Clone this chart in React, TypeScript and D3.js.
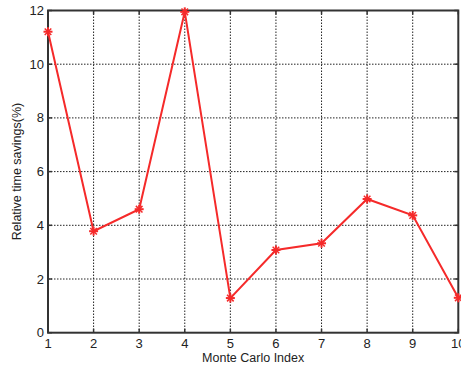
import React from "react";
import * as d3 from "d3";

const indices = [1, 2, 3, 4, 5, 6, 7, 8, 9, 10];
const savings = [11.21, 3.78, 4.6, 11.95, 1.29, 3.08, 3.33, 4.98, 4.37, 1.3];
const xTicks = [1, 2, 3, 4, 5, 6, 7, 8, 9, 10];
const yTicks = [0, 2, 4, 6, 8, 10, 12];

const W = 461;
const H = 370;
const left = 48;
const right = 458.3;
const top = 10.5;
const bottom = 332.7;
const font = "'Liberation Sans', Arial, sans-serif";

export default function App() {
  const x = d3.scaleLinear().domain([1, 10]).range([left, right]);
  const y = d3.scaleLinear().domain([0, 12]).range([bottom, top]);
  const line = d3
    .line<number>()
    .x((_, i) => x(indices[i]))
    .y((d) => y(d));

  const red = "#f52a2a";
  const m = 4.5;
  const md = 3.3;

  return (
    <svg
      width={W}
      height={H}
      style={{ position: "absolute", left: 0, top: 0, background: "#fff" }}
    >
      {/* grid */}
      {xTicks.slice(1, -1).map((t) => (
        <line
          key={"gx" + t}
          x1={x(t)}
          x2={x(t)}
          y1={top}
          y2={bottom}
          stroke="#222"
          strokeWidth={1}
          strokeDasharray="1.5,1.5"
        />
      ))}
      {yTicks.slice(1, -1).map((t) => (
        <line
          key={"gy" + t}
          x1={left}
          x2={right}
          y1={y(t)}
          y2={y(t)}
          stroke="#222"
          strokeWidth={1}
          strokeDasharray="1.5,1.5"
        />
      ))}
      {/* ticks (inward) */}
      {xTicks.map((t) => (
        <g key={"tx" + t}>
          <line x1={x(t)} x2={x(t)} y1={bottom} y2={bottom - 4} stroke="#333" strokeWidth={1.5} />
          <line x1={x(t)} x2={x(t)} y1={top} y2={top + 4} stroke="#333" strokeWidth={1.5} />
        </g>
      ))}
      {yTicks.map((t) => (
        <g key={"ty" + t}>
          <line x1={left} x2={left + 4} y1={y(t)} y2={y(t)} stroke="#333" strokeWidth={1.5} />
          <line x1={right} x2={right - 4} y1={y(t)} y2={y(t)} stroke="#333" strokeWidth={1.5} />
        </g>
      ))}
      {/* axes box */}
      <rect
        x={left}
        y={top}
        width={right - left}
        height={bottom - top}
        fill="none"
        stroke="#333"
        strokeWidth={2}
      />
      {/* series */}
      <path d={line(savings) || ""} fill="none" stroke={red} strokeWidth={2} />
      {savings.map((v, i) => {
        const cx = x(indices[i]);
        const cy = y(v);
        return (
          <g key={"m" + i} stroke={red} strokeWidth={2}>
            <line x1={cx - m} x2={cx + m} y1={cy} y2={cy} />
            <line x1={cx} x2={cx} y1={cy - m} y2={cy + m} />
            <line x1={cx - md} x2={cx + md} y1={cy - md} y2={cy + md} strokeWidth={1.5} />
            <line x1={cx - md} x2={cx + md} y1={cy + md} y2={cy - md} strokeWidth={1.5} />
          </g>
        );
      })}
      {/* tick labels */}
      {xTicks.map((t) => (
        <text
          key={"lx" + t}
          x={x(t)}
          y={348}
          textAnchor="middle"
          fontFamily={font}
          fontSize={13}
          fill="#222"
        >
          {t}
        </text>
      ))}
      {yTicks.map((t) => (
        <text
          key={"ly" + t}
          x={44}
          y={y(t) + 4.5}
          textAnchor="end"
          fontFamily={font}
          fontSize={13}
          fill="#222"
        >
          {t}
        </text>
      ))}
      <text
        x={(left + right) / 2}
        y={362}
        textAnchor="middle"
        fontFamily={font}
        fontSize={12.5}
        fill="#222"
      >
        Monte Carlo Index
      </text>
      <text
        transform={`translate(21,${(top + bottom) / 2}) rotate(-90)`}
        textAnchor="middle"
        fontFamily={font}
        fontSize={12.5}
        fill="#222"
      >
        Relative time savings(%)
      </text>
    </svg>
  );
}
